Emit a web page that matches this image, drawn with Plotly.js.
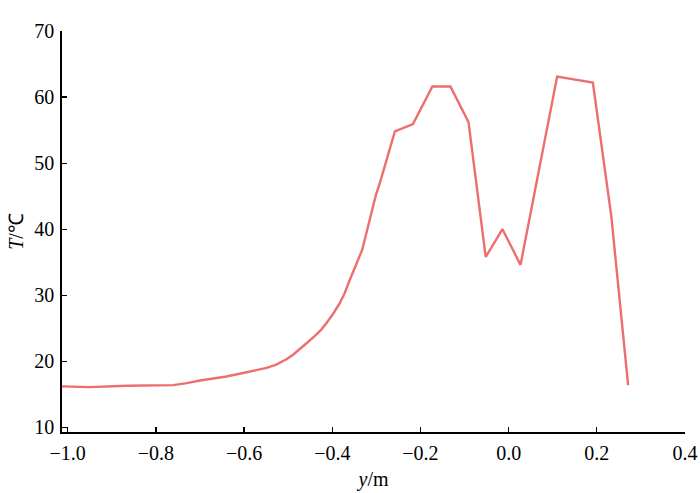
<!DOCTYPE html>
<html>
<head>
<meta charset="utf-8">
<script src="https://cdn.plot.ly/plotly-3.0.1.min.js"></script>
<style>html,body{margin:0;padding:0;background:#fff;}#chart{width:700px;height:493px;}</style>
</head>
<body>
<div id="chart"></div>
<script>
var yPos = [-1.013, -0.95, -0.866, -0.761, -0.730, -0.700, -0.640, -0.595, -0.549, -0.527, -0.504, -0.489, -0.474, -0.459, -0.440, -0.425, -0.413, -0.398, -0.383, -0.372, -0.361, -0.332, -0.301, -0.292, -0.258, -0.217, -0.173, -0.132, -0.091, -0.052, -0.014, 0.027, 0.110, 0.191, 0.233, 0.271];
var temperature = [16.2, 16.1, 16.3, 16.4, 16.7, 17.1, 17.7, 18.3, 19.0, 19.5, 20.3, 21.0, 21.8, 22.7, 23.8, 24.8, 25.8, 27.2, 28.8, 30.3, 32.2, 36.9, 45.2, 47.0, 54.8, 55.9, 61.6, 61.6, 56.2, 35.8, 40.0, 34.6, 63.1, 62.2, 41.9, 16.4];
var xTicks = [-1.0, -0.8, -0.6, -0.4, -0.2, 0.0, 0.2, 0.4];
var xTickText = ["\u22121.0", "\u22120.8", "\u22120.6", "\u22120.4", "\u22120.2", "0.0", "0.2", "0.4"];
var yTicks = [10, 20, 30, 40, 50, 60, 70];

var trace = {
  x: yPos, y: temperature, type: 'scatter', mode: 'lines',
  line: {color: 'rgb(238,110,110)', width: 2.4, shape: 'linear'},
  hoverinfo: 'none'
};
var font = {family: 'Liberation Serif, Times New Roman, serif', size: 20, color: '#000'};
var layout = {
  width: 700, height: 493,
  margin: {l: 62, r: 15, t: 31, b: 61},
  paper_bgcolor: '#fff', plot_bgcolor: '#fff',
  showlegend: false,
  font: font,
  xaxis: {
    range: [-1.013, 0.4], tickvals: xTicks, ticktext: xTickText,
    ticks: 'inside', ticklen: 5, tickwidth: 1.2, tickcolor: '#000',
    showline: true, linecolor: '#000', linewidth: 1.7, mirror: false,
    showgrid: false, zeroline: false, tickfont: font, ticklabelstandoff: 2,
    title: {text: '<i>y</i>/m', font: font, standoff: 9}
  },
  yaxis: {
    range: [9.3, 70], tickvals: yTicks,
    ticks: 'inside', ticklen: 5, tickwidth: 1.2, tickcolor: '#000',
    showline: true, linecolor: '#000', linewidth: 1.7, mirror: false,
    showgrid: false, zeroline: false, tickfont: font, ticklabelstandoff: 2,
    title: {text: '<i>T</i>/\u2103', font: font, standoff: 5}
  }
};
Plotly.newPlot('chart', [trace], layout, {displayModeBar: false, staticPlot: true});
</script>
</body>
</html>
